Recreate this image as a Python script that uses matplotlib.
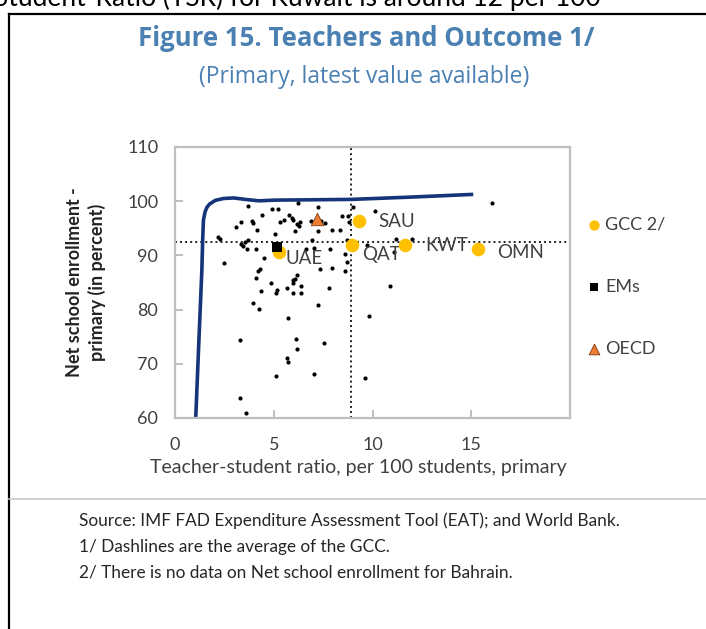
import matplotlib
matplotlib.use("Agg")
import matplotlib.pyplot as plt
from matplotlib.lines import Line2D

# ---------------- data ----------------
other_x = [3.68, 4.92, 5.23, 6.23, 7.24, 4.39, 5.77, 5.90, 5.97, 3.36, 3.92, 3.97, 5.34, 5.50,
           6.34, 6.19, 3.10, 4.16, 6.07, 6.26, 6.87, 7.40, 7.58, 7.95, 7.26, 8.45, 8.75, 8.99,
           8.80, 8.36, 10.13, 2.20, 2.29, 3.69, 3.56, 3.33, 3.44, 3.64, 4.12, 4.53, 5.06, 6.92,
           7.04, 6.64, 7.84, 8.62, 8.70, 8.69, 9.72, 2.46, 4.29, 4.19, 6.16, 6.06, 7.35, 7.95,
           8.62, 11.20, 12.00, 11.08, 16.03, 10.91, 4.11, 5.95, 5.99, 4.86, 5.65, 6.40, 7.82,
           4.36, 5.09, 5.18, 5.97, 6.40, 3.93, 4.26, 7.24, 5.71, 9.80, 3.31, 6.12, 6.17, 7.56,
           5.65, 5.71, 5.10, 7.02, 9.63, 3.31, 3.58]
other_y = [99.15, 98.48, 98.48, 99.6, 98.9, 97.47, 97.43, 96.93, 96.5, 96.1, 96.36, 96.04, 96.2,
           96.54, 96.2, 95.71, 95.21, 94.71, 94.57, 95.4, 96.32, 96.32, 95.95, 94.6, 94.53, 97.25,
           97.25, 98.9, 96.14, 94.71, 98.17, 93.42, 93.09, 92.81, 92.5, 92.16, 91.7, 91.15, 91.15,
           89.61, 94.0, 92.9, 91.42, 91.1, 91.15, 90.35, 88.8, 92.8, 91.9, 88.61, 87.58, 87.13,
           86.43, 85.73, 87.54, 87.73, 87.17, 92.94, 92.94, 90.68, 99.6, 84.36, 85.79, 85.42,
           84.92, 84.92, 84.07, 84.44, 84.07, 83.38, 83.14, 83.57, 83.14, 83.14, 81.22, 80.11,
           80.79, 78.39, 78.85, 74.33, 74.51, 72.79, 73.9, 71.13, 70.41, 67.82, 68.08, 67.43,
           63.73, 60.96]

gcc_names = ["SAU", "UAE", "QAT", "KWT", "OMN"]
gcc_x = [9.33, 5.26, 8.96, 11.67, 15.32]
gcc_y = [96.3, 90.65, 92.0, 92.0, 91.1]

em_x, em_y = [5.17], [91.6]
oecd_x, oecd_y = [7.21], [96.8]

gcc_avg_x = 8.93
gcc_avg_y = 92.5

curve_x = [1.05, 1.20, 1.36, 1.40, 1.44, 1.52, 1.62, 1.76, 2.04, 2.46, 2.97, 3.56, 4.24, 5.09, 8.91, 11.96, 15.10]
curve_y = [60.0, 73.4, 87.3, 92.8, 96.5, 98.0, 98.9, 99.5, 100.15, 100.5, 100.6, 100.33, 100.07, 100.2, 100.33, 100.76, 101.26]

x_ticks = [0, 5, 10, 15]
y_ticks = [60, 70, 80, 90, 100, 110]

# ---------------- figure ----------------
W, H = 706, 629
fig = plt.figure(figsize=(W / 100, H / 100), dpi=100)
plt.rcParams['font.family'] = ['Lato', 'DejaVu Sans']

def fx(px):
    return px / W

def fy(py):
    return 1 - py / H

# outer frame (left and top) + separator
fig.add_artist(Line2D([fx(8.5), fx(8.5)], [fy(14), fy(629)], color='black', lw=1.6))
fig.add_artist(Line2D([fx(8.5), fx(706)], [fy(14), fy(14)], color='black', lw=1.6))
fig.add_artist(Line2D([fx(8.5), fx(706)], [fy(499), fy(499)], color='#c8c8c8', lw=1.2))

# text from the page above, clipped by the top edge as in the source
fig.text(fx(-6), fy(-2), "Student-Ratio (TSR) for Kuwait is around 12 per 100",
         fontsize=19, ha='left', va='center', color='black')

title_color = '#4a80b2'
fig.text(fx(366), fy(39), "Figure 15. Teachers and Outcome 1/", fontsize=18.5,
         fontweight='bold', ha='center', va='center', color=title_color,
         family=['Open Sans', 'DejaVu Sans'])
fig.text(fx(364), fy(77), "(Primary, latest value available)", fontsize=16.5,
         ha='center', va='center', color=title_color, family=['Open Sans', 'DejaVu Sans'])

ax = fig.add_axes([fx(175), fy(418), (570 - 175) / W, (418 - 147) / H])
ax.set_xlim(0, 20)
ax.set_ylim(60, 110)

ax.axvline(gcc_avg_x, color='#222222', ls=(0, (1, 1.6)), lw=1.4, zorder=1)
ax.axhline(gcc_avg_y, color='#222222', ls=(0, (1, 1.6)), lw=1.4, zorder=1)

ax.plot(curve_x, curve_y, color='#15347a', lw=2.6, solid_capstyle='butt',
        solid_joinstyle='round', zorder=2)

ax.scatter(other_x, other_y, s=9, color='black', zorder=3, linewidths=0)
g = ax.scatter(gcc_x, gcc_y, s=95, color='#ffc000', zorder=4, linewidths=0, label='GCC 2/')
e = ax.scatter(em_x, em_y, s=62, color='black', marker='s', zorder=5, linewidths=0, label='EMs')
o = ax.scatter(oecd_x, oecd_y, s=80, color='#ed7d31', marker='^', edgecolors='#7a3a10',
               linewidths=0.6, zorder=5, label='OECD')

offsets = {"SAU": (14, 0), "UAE": (5, -4.5), "QAT": (7, -7), "KWT": (14, -1), "OMN": (14, -2)}
for n, x, y in zip(gcc_names, gcc_x, gcc_y):
    ax.annotate(n, (x, y), xytext=offsets[n], textcoords='offset points', fontsize=13.5,
                ha='left', va='center', color='#404040')

for sp in ax.spines.values():
    sp.set_color('#bfbfbf')
    sp.set_linewidth(1.6)
ax.set_xticks(x_ticks)
ax.set_yticks(y_ticks)
ax.tick_params(direction='in', length=6, width=1.4, color='#bfbfbf', labelcolor='#404040',
               labelsize=13)
ax.tick_params(axis='x', pad=14)
ax.tick_params(axis='y', pad=12)

leg = ax.legend(handles=[g, e, o], loc='upper left', bbox_to_anchor=(1.02, 0.77),
                frameon=False, fontsize=13, labelspacing=2.55, handletextpad=0.1,
                handlelength=1.0, borderaxespad=0, markerscale=1.0)
for t in leg.get_texts():
    t.set_color('#404040')
leg.legend_handles[0].set_sizes([55])
leg.legend_handles[1].set_sizes([40])
leg.legend_handles[2].set_sizes([60])

fig.text(fx(358), fy(468), "Teacher-student ratio, per 100 students, primary", fontsize=14,
         ha='center', va='center', color='#404040')
fig.text(fx(86), fy(282), "Net school enrollment -\nprimary (in percent)", fontsize=13,
         fontweight='bold', rotation=90, ha='center', va='center', color='#222222',
         linespacing=1.3)

foot = ["Source: IMF FAD Expenditure Assessment Tool (EAT); and World Bank.",
        "1/ Dashlines are the average of the GCC.",
        "2/ There is no data on Net school enrollment for Bahrain."]
for i, t in enumerate(foot):
    fig.text(fx(79), fy(521 + 26 * i), t, fontsize=12.4, ha='left', va='center', color='#262626')

fig.savefig("out.png", dpi=100)
